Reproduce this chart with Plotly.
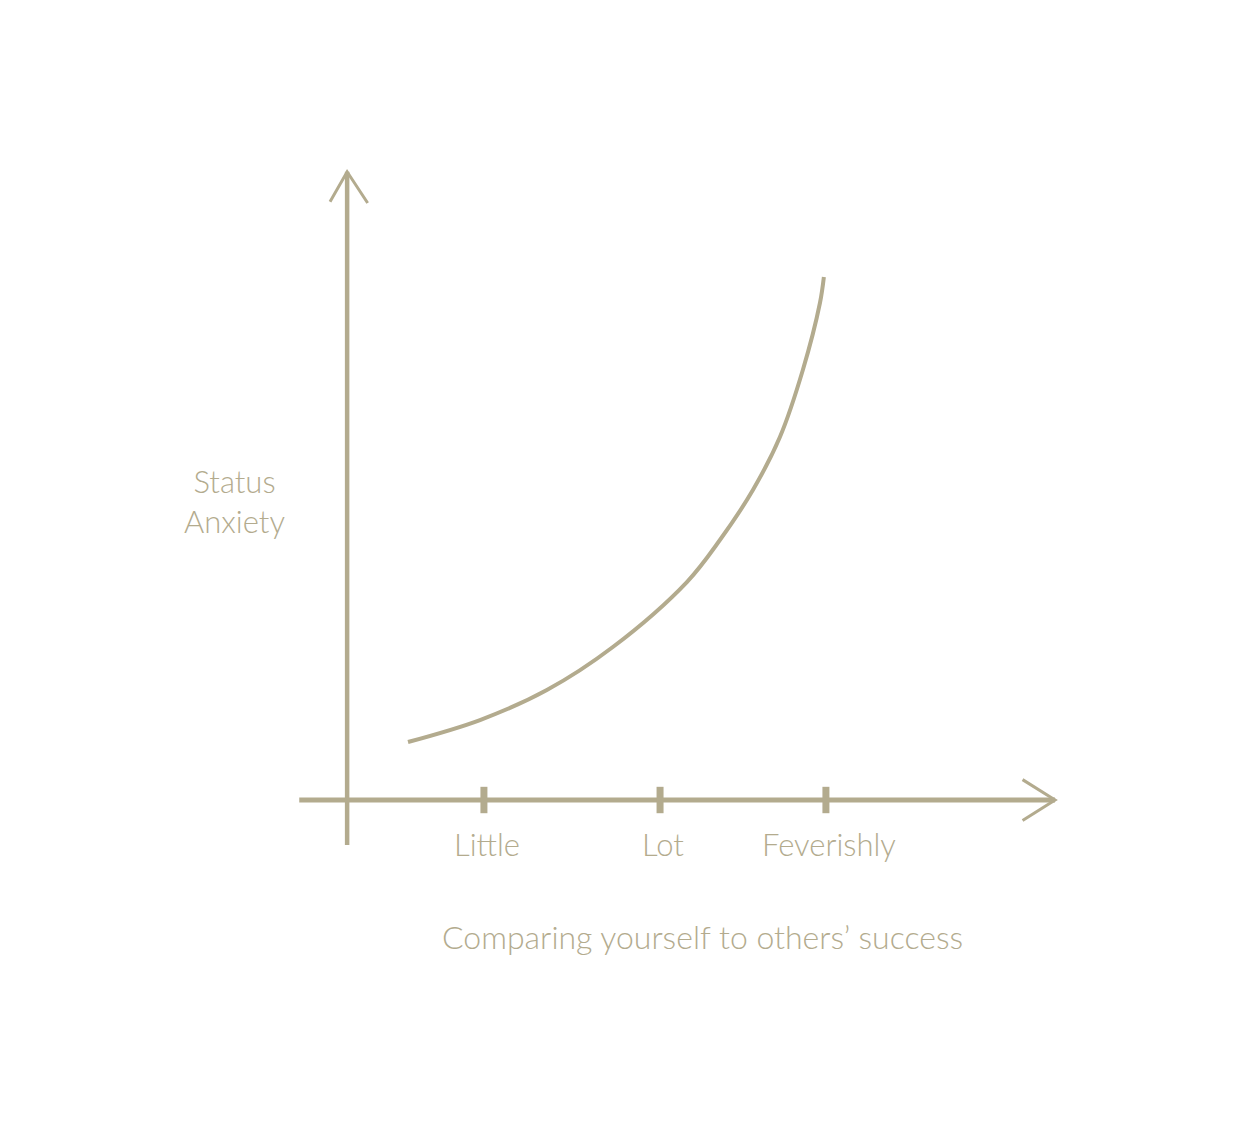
import plotly.graph_objects as go

# ---- data ----
tick_labels = ["Little", "Lot", "Feverishly"]
tick_positions = [1.0, 2.03, 3.0]
curve_x = [0.556, 0.977, 1.368, 1.754, 2.187, 2.380, 2.573, 2.731, 2.865, 2.965, 2.988]
curve_y = [0.967, 1.333, 1.833, 2.550, 3.633, 4.333, 5.167, 6.050, 7.167, 8.283, 8.717]
y_title = "Status<br>Anxiety"
x_title = "Comparing yourself to others’ success"

# axis geometry (data units)
X_AXIS_START, X_AXIS_END = -0.08, 4.34
Y_AXIS_X = 0.20
Y_AXIS_START, Y_AXIS_END = -0.75, 10.47

COLOR = "#b3ab8e"
FONT = "Lato"
FSIZE = 31

fig = go.Figure()

# x axis line
fig.add_trace(go.Scatter(x=[X_AXIS_START, X_AXIS_END], y=[0, 0], mode="lines",
                         line=dict(color=COLOR, width=5), hoverinfo="skip"))
# y axis line
fig.add_trace(go.Scatter(x=[Y_AXIS_X, Y_AXIS_X], y=[Y_AXIS_START, Y_AXIS_END], mode="lines",
                         line=dict(color=COLOR, width=4.5), hoverinfo="skip"))
# arrowheads (open chevrons)
hx, hy = 0.19, 0.34
fig.add_trace(go.Scatter(x=[X_AXIS_END - hx, X_AXIS_END, X_AXIS_END - hx],
                         y=[hy, 0, -hy], mode="lines",
                         line=dict(color=COLOR, width=3), hoverinfo="skip"))
fig.add_trace(go.Scatter(x=[Y_AXIS_X - 0.1, Y_AXIS_X, Y_AXIS_X + 0.12],
                         y=[Y_AXIS_END - 0.5, Y_AXIS_END, Y_AXIS_END - 0.52], mode="lines",
                         line=dict(color=COLOR, width=3), hoverinfo="skip"))
# tick marks
for tp in tick_positions:
    fig.add_trace(go.Scatter(x=[tp, tp], y=[-0.22, 0.22], mode="lines",
                             line=dict(color=COLOR, width=7), hoverinfo="skip"))
# curve
fig.add_trace(go.Scatter(x=curve_x, y=curve_y, mode="lines",
                         line=dict(color=COLOR, width=4, shape="spline", smoothing=1.0),
                         hoverinfo="skip"))

# tick labels
for tp, tl in zip(tick_positions, tick_labels):
    fig.add_annotation(x=tp + 0.02, y=-0.73, text=tl, showarrow=False,
                       font=dict(family=FONT, size=FSIZE, color=COLOR, weight=300))
# titles
fig.add_annotation(x=-0.46, y=4.98, text=y_title, showarrow=False, align="center",
                   font=dict(family=FONT, size=FSIZE, color=COLOR, weight=300))
fig.add_annotation(x=2.28, y=-2.28, text=x_title, showarrow=False,
                   font=dict(family=FONT, size=32, color=COLOR, weight=300))

fig.update_layout(
    width=1250, height=1123,
    margin=dict(l=0, r=0, t=0, b=0),
    paper_bgcolor="white", plot_bgcolor="white",
    showlegend=False,
    xaxis=dict(range=[-1.830, 5.480], visible=False, fixedrange=True),
    yaxis=dict(range=[-5.383, 13.333], visible=False, fixedrange=True),
)

fig.write_html("out.html", post_script="document.body.style.margin='0';",
               config={"displayModeBar": False})
